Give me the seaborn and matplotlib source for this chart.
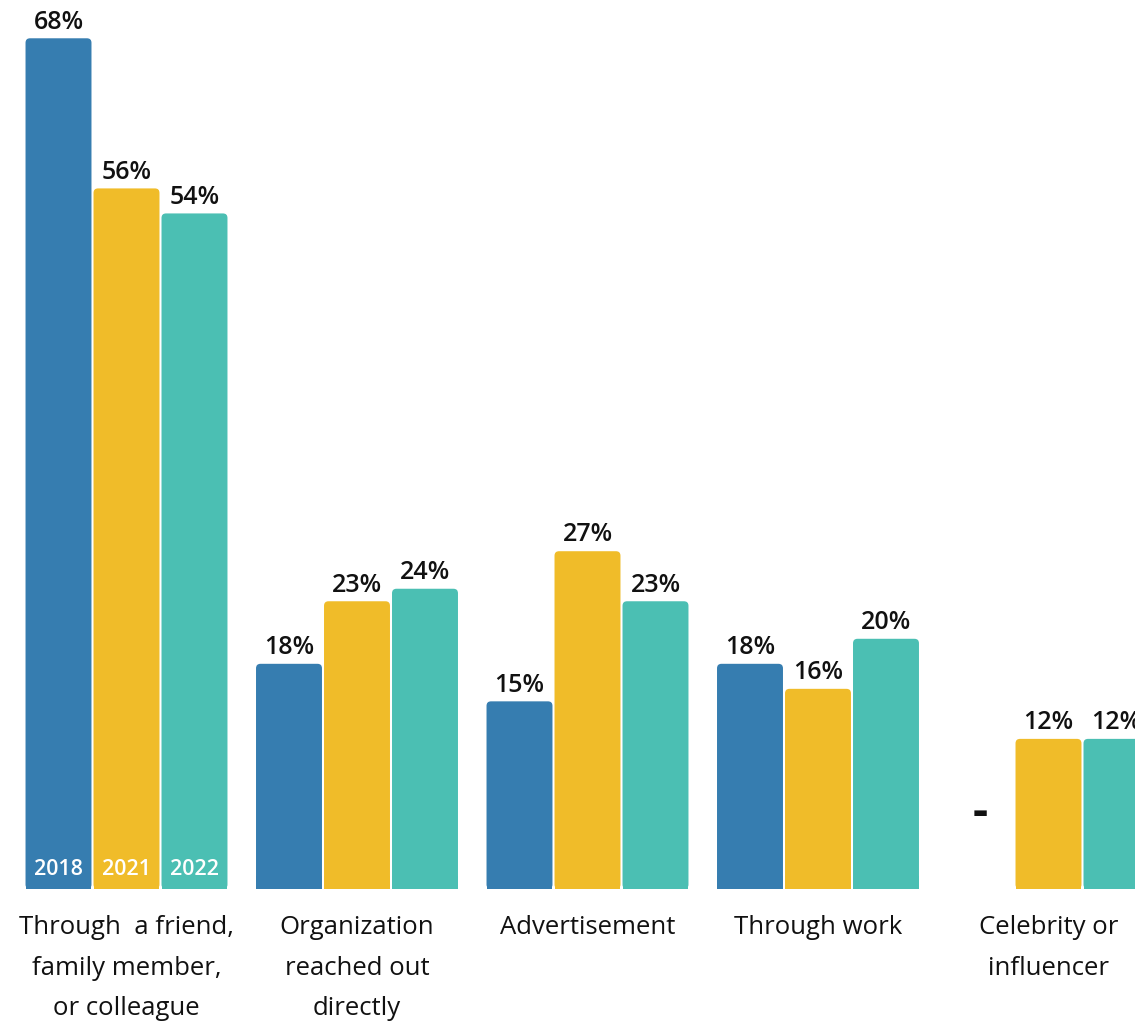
import numpy as np
import pandas as pd
import seaborn as sns
import matplotlib.pyplot as plt
from matplotlib.patches import FancyBboxPatch, Rectangle

categories = ["Through  a friend,\nfamily member,\nor colleague",
              "Organization\nreached out\ndirectly",
              "Advertisement",
              "Through work",
              "Celebrity or\ninfluencer"]
years = ["2018", "2021", "2022"]
v2018 = [68, 18, 15, 18, np.nan]
v2021 = [56, 23, 27, 16, 12]
v2022 = [54, 24, 23, 20, 12]
colors = ["#367db0", "#f0bc29", "#4bbfb3"]

df = pd.DataFrame({
    "category": categories * 3,
    "year": [y for y in years for _ in categories],
    "value": v2018 + v2021 + v2022,
})

sns.set_style("white")
plt.rcParams['font.family'] = ['Open Sans', 'DejaVu Sans']

fig = plt.figure(figsize=(11.35, 10.24), dpi=100)
ax = fig.add_axes([0, 135 / 1024, 1, 889 / 1024])

sns.barplot(data=df, x="category", y="value", hue="year", order=categories,
            hue_order=years, palette=colors, width=0.885, gap=0.03,
            ax=ax, legend=False, errorbar=None, saturation=1)

ax.set_xlim(-0.5488, 4.3753)
ax.set_ylim(0, 71.06)
sns.despine(ax=ax, left=True, bottom=True)
ax.set_yticks([])
ax.set_xlabel("")
ax.set_ylabel("")
ax.tick_params(axis="x", length=0, pad=19, labelsize=18.5)
for lab in ax.get_xticklabels():
    lab.set_linespacing(1.8)
    lab.set_color("#111111")

# px per unit, used for rounded corners
px_x = 230.5
px_y = 12.51
r = 4.5 / px_x

for j, cont in enumerate(ax.containers):
    for i, bar in enumerate(cont):
        x, w, h = bar.get_x(), bar.get_width(), bar.get_height()
        if np.isnan(h) or h == 0:
            continue
        bar.set_visible(False)
        fc = bar.get_facecolor()
        ax.add_patch(FancyBboxPatch((x + r, r * px_x / px_y), w - 2 * r, h - 2 * r * px_x / px_y,
                                    boxstyle=f"round,pad={r},rounding_size={r}",
                                    mutation_aspect=px_x / px_y,
                                    fc=fc, ec="none"))
        ax.add_patch(Rectangle((x, 0), w, 1, fc=fc, ec="none"))
        ax.text(x + w / 2, h + 0.3, f"{int(h)}%", ha="center", va="bottom",
                fontsize=18, fontweight="semibold", color="#111111")

# year labels inside first group, dash for missing value
slot = 0.295
for j, yr in enumerate(years):
    ax.text(0 + (j - 1) * slot, 1.55, yr, ha="center", va="center",
            fontsize=15.5, color="white", fontweight="semibold")

for i in range(len(categories)):
    if np.isnan(v2018[i]):
        ax.text(i - slot, (v2021[i] + v2022[i]) / 4, "-", ha="center", va="center",
                fontsize=34, fontweight="bold", color="#111111")

fig.savefig("out.png", dpi=100)
